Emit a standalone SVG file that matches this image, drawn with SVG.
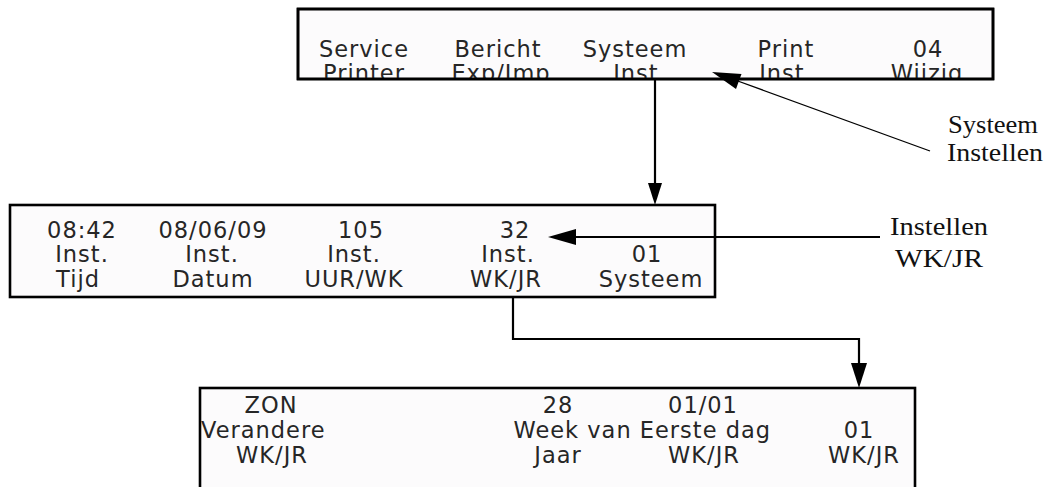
<svg xmlns="http://www.w3.org/2000/svg" width="1055" height="487" viewBox="0 0 1055 487">
<style>
.box{fill:#fcfbfc;stroke:#000;stroke-width:2.6}
.lcd{font-family:"DejaVu Sans",sans-serif;font-size:22.5px;letter-spacing:1px;fill:#262626;text-anchor:middle}
.lbl{font-family:"Liberation Serif",serif;font-size:25px;fill:#111}
.con{stroke:#000;stroke-width:2.2;fill:none}
.thin{stroke:#000;stroke-width:1.3;fill:none}
</style>
<defs>
<clipPath id="c1"><rect x="298" y="9" width="695" height="69"/></clipPath>
<clipPath id="c3"><rect x="200" y="388" width="715" height="110"/></clipPath>
</defs>
<g id="menu-top">
<rect class="box" x="298" y="9" width="695" height="70"/>
<g clip-path="url(#c1)">
<text class="lcd" x="364" y="57">Service</text>
<text class="lcd" x="364" y="81">Printer</text>
<text class="lcd" x="498" y="57">Bericht</text>
<text class="lcd" x="501" y="81">Exp/Imp</text>
<text class="lcd" x="635" y="57">Systeem</text>
<text class="lcd" x="640" y="81">Inst.</text>
<text class="lcd" x="786" y="57">Print</text>
<text class="lcd" x="786" y="81">Inst.</text>
<text class="lcd" x="928" y="57">04</text>
<text class="lcd" x="927" y="81">Wijzig</text>
</g>
<rect x="298" y="9" width="695" height="70" fill="none" stroke="#000" stroke-width="2.6"/>
</g>
<g id="menu-systeem">
<rect class="box" x="10" y="205" width="705" height="92"/>
<text class="lcd" x="82" y="238">08:42</text>
<text class="lcd" x="82" y="262">Inst.</text>
<text class="lcd" x="78" y="287">Tijd</text>
<text class="lcd" x="213" y="238">08/06/09</text>
<text class="lcd" x="212" y="262">Inst.</text>
<text class="lcd" x="213" y="287">Datum</text>
<text class="lcd" x="361" y="238">105</text>
<text class="lcd" x="354" y="262">Inst.</text>
<text class="lcd" x="354" y="287">UUR/WK</text>
<text class="lcd" x="515" y="238">32</text>
<text class="lcd" x="508" y="262">Inst.</text>
<text class="lcd" x="506" y="287">WK/JR</text>
<text class="lcd" x="647" y="262">01</text>
<text class="lcd" x="651" y="287">Systeem</text>
</g>
<g id="menu-wkjr">
<rect class="box" x="200" y="388" width="715" height="110"/>
<g clip-path="url(#c3)">
<text class="lcd" x="271" y="413">ZON</text>
<text class="lcd" x="201" y="438" style="text-anchor:start">Verandere</text>
<text class="lcd" x="272" y="463">WK/JR</text>
<text class="lcd" x="558" y="413">28</text>
<text class="lcd" x="771" y="438" style="text-anchor:end">Week van Eerste dag</text>
<text class="lcd" x="558" y="463">Jaar</text>
<text class="lcd" x="703" y="413">01/01</text>
<text class="lcd" x="704" y="463">WK/JR</text>
<text class="lcd" x="859" y="438">01</text>
<text class="lcd" x="864" y="463">WK/JR</text>
</g>
</g>
<g id="label-systeem">
<text class="lbl" x="948" y="133" textLength="90" lengthAdjust="spacingAndGlyphs">Systeem</text>
<text class="lbl" x="947" y="161" textLength="96" lengthAdjust="spacingAndGlyphs">Instellen</text>
</g>
<g id="label-wkjr">
<text class="lbl" x="890" y="235" textLength="98" lengthAdjust="spacingAndGlyphs">Instellen</text>
<text class="lbl" x="895" y="267" textLength="88" lengthAdjust="spacingAndGlyphs">WK/JR</text>
</g>
<g id="connectors">
<line class="thin" x1="930" y1="151" x2="735" y2="80"/>
<polygon points="712,72 741.5,74 736,89" fill="#000"/>
<line class="con" x1="655" y1="79" x2="655" y2="185"/>
<polygon points="648,183 662,183 655,205" fill="#000"/>
<line class="con" x1="880" y1="237" x2="570" y2="237"/>
<polygon points="548,237 576,229 576,245" fill="#000"/>
<polyline class="con" points="513,297 513,339 859,339 859,364"/>
<polygon points="851,363 867,363 859,388" fill="#000"/>
</g>
</svg>
